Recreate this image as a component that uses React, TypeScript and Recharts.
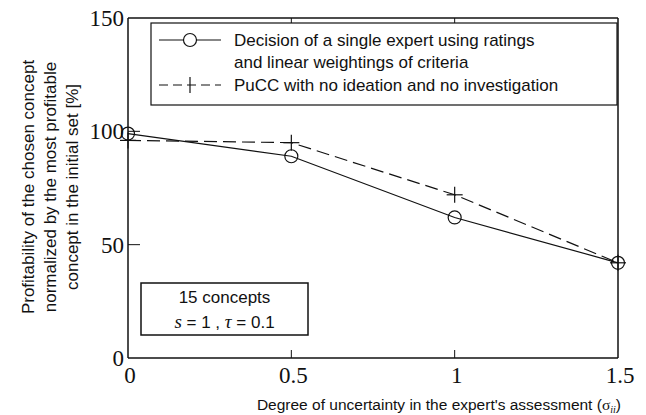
import React from 'react'
import { LineChart, Line, XAxis, YAxis } from 'recharts'

const X_VALUES = [0, 0.5, 1, 1.5]
const SINGLE_EXPERT = [99, 89, 62, 42]
const PUCC = [96, 95, 72, 42]
const X_TICKS = [0, 0.5, 1, 1.5]
const Y_TICKS = [0, 50, 100, 150]
const SERIES_NAMES = [
  ['Decision of a single expert using ratings', 'and linear weightings of criteria'],
  ['PuCC with no ideation and no investigation'],
]
const Y_LABEL = [
  'Profitability of the chosen concept',
  'normalized by the most profitable',
  'concept in the initial set [%]',
]
const X_LABEL = "Degree of uncertainty in the expert's assessment ("
const NOTE_TITLE = '15 concepts'

const W = 646
const H = 415
const SANS = '"Liberation Sans", Arial, sans-serif'
const SERIF = '"Liberation Serif", "Times New Roman", serif'
const INK = '#111'
const DASH = '13 6'

const data = X_VALUES.map((x, i) => ({ x, single: SINGLE_EXPERT[i], pucc: PUCC[i] }))

function CircleDot(props: any) {
  const { cx, cy } = props
  if (cx == null || cy == null) return null
  return <circle cx={cx} cy={cy} r={6.5} fill="none" stroke={INK} strokeWidth={1.2} />
}

function PlusDot(props: any) {
  const { cx, cy } = props
  if (cx == null || cy == null) return null
  return (
    <g stroke={INK} strokeWidth={1.2}>
      <line x1={cx - 8} y1={cy} x2={cx + 8} y2={cy} />
      <line x1={cx} y1={cy - 8} x2={cx} y2={cy + 8} />
    </g>
  )
}

// tick marks point into the plot, labels only on left/bottom
function BottomTick(props: any) {
  const { x, y, payload } = props
  const edge = payload.value === 0 || payload.value === 1.5
  return (
    <g>
      {!edge && <line x1={x} y1={y} x2={x} y2={y - 8} stroke={INK} />}
      <text x={x + 2} y={y + 25} textAnchor="middle" fontFamily={SERIF} fontSize={23} fill={INK}>
        {payload.value}
      </text>
    </g>
  )
}

function TopTick(props: any) {
  const { x, y, payload } = props
  if (payload.value === 0 || payload.value === 1.5) return null
  return <line x1={x} y1={y} x2={x} y2={y + 8} stroke={INK} />
}

function LeftTick(props: any) {
  const { x, y, payload } = props
  const edge = payload.value === 0 || payload.value === 150
  return (
    <g>
      {!edge && <line x1={x} y1={y} x2={x + 12} y2={y} stroke={INK} />}
      <text x={x - 4} y={y + 8} textAnchor="end" fontFamily={SERIF} fontSize={23} fill={INK}>
        {payload.value}
      </text>
    </g>
  )
}

function RightTick(props: any) {
  const { x, y, payload } = props
  if (payload.value === 0 || payload.value === 150) return null
  return <line x1={x} y1={y} x2={x - 12} y2={y} stroke={INK} />
}

function Overlay() {
  return (
    <svg
      width={W}
      height={H}
      style={{ position: 'absolute', left: 0, top: 0, pointerEvents: 'none' }}
    >
      {/* legend */}
      <rect x={151} y={23} width={466} height={82} fill="#fff" stroke={INK} strokeWidth={1.2} />
      <line x1={159} y1={40} x2={221} y2={40} stroke={INK} strokeWidth={1.2} />
      <circle cx={190} cy={40} r={6.5} fill="#fff" stroke={INK} strokeWidth={1.2} />
      <line x1={159} y1={85} x2={221} y2={85} stroke={INK} strokeWidth={1.2} strokeDasharray="9 5" />
      <line x1={190} y1={77} x2={190} y2={93} stroke={INK} strokeWidth={1.2} />
      <g fontFamily={SANS} fontSize={17} fill={INK}>
        <text x={234} y={46}>{SERIES_NAMES[0][0]}</text>
        <text x={234} y={68}>{SERIES_NAMES[0][1]}</text>
        <text x={234} y={91}>{SERIES_NAMES[1][0]}</text>
      </g>

      {/* parameters box */}
      <rect x={141} y={283} width={167} height={52} fill="#fff" stroke={INK} strokeWidth={1.5} />
      <text x={224.5} y={303} textAnchor="middle" fontFamily={SANS} fontSize={17} fill={INK}>
        {NOTE_TITLE}
      </text>
      <text x={224.5} y={328} textAnchor="middle" fontFamily={SANS} fontSize={17} fill={INK}>
        <tspan fontFamily={SERIF} fontStyle="italic" fontSize={19}>s</tspan>
        <tspan> = 1 ,  </tspan>
        <tspan fontFamily={SERIF} fontStyle="italic" fontSize={19}>τ</tspan>
        <tspan> = 0.1</tspan>
      </text>

      {/* y axis title */}
      <g fontFamily={SANS} fontSize={17} fill={INK} textAnchor="middle">
        {Y_LABEL.map((line, i) => (
          <text key={i} x={0} y={0} transform={`translate(${34 + i * 22}, 187) rotate(-90)`}>
            {line}
          </text>
        ))}
      </g>

      {/* x axis title */}
      <text x={621} y={410} textAnchor="end" fontFamily={SANS} fontSize={15.5} fill={INK}>
        {X_LABEL}
        <tspan fontFamily={SERIF}>σ</tspan>
        <tspan fontFamily={SERIF} fontStyle="italic" fontSize={10} dy={3}>ii</tspan>
        <tspan dy={-3}>)</tspan>
      </text>
    </svg>
  )
}

export default function App() {
  return (
    <div style={{ position: 'absolute', left: 0, top: 0, width: W, height: H, background: '#fff' }}>
      <LineChart
        width={W}
        height={H}
        data={data}
        margin={{ top: 17, right: 27, left: 127, bottom: 56 }}
      >
        <XAxis
          xAxisId="b"
          dataKey="x"
          type="number"
          domain={[0, 1.5]}
          ticks={X_TICKS}
          height={1}
          tickSize={0}
          tickMargin={0}
          tick={BottomTick}
          axisLine={{ stroke: INK, strokeWidth: 1.5 }}
        />
        <XAxis
          xAxisId="t"
          orientation="top"
          dataKey="x"
          type="number"
          domain={[0, 1.5]}
          ticks={X_TICKS}
          height={1}
          tickSize={0}
          tickMargin={0}
          tick={TopTick}
          axisLine={{ stroke: INK, strokeWidth: 1.5 }}
        />
        <YAxis
          yAxisId="l"
          type="number"
          domain={[0, 150]}
          ticks={Y_TICKS}
          width={1}
          tickSize={0}
          tickMargin={0}
          tick={LeftTick}
          axisLine={{ stroke: INK, strokeWidth: 1.5 }}
        />
        <YAxis
          yAxisId="r"
          orientation="right"
          type="number"
          domain={[0, 150]}
          ticks={Y_TICKS}
          width={1}
          tickSize={0}
          tickMargin={0}
          tick={RightTick}
          axisLine={{ stroke: INK, strokeWidth: 1.5 }}
        />
        <Line
          xAxisId="b"
          yAxisId="l"
          type="linear"
          dataKey="pucc"
          stroke={INK}
          strokeWidth={1.2}
          strokeDasharray={DASH}
          dot={<PlusDot />}
          activeDot={false}
          isAnimationActive={false}
        />
        <Line
          xAxisId="b"
          yAxisId="l"
          type="linear"
          dataKey="single"
          stroke={INK}
          strokeWidth={1.2}
          dot={<CircleDot />}
          activeDot={false}
          isAnimationActive={false}
        />
      </LineChart>
      <Overlay />
    </div>
  )
}
